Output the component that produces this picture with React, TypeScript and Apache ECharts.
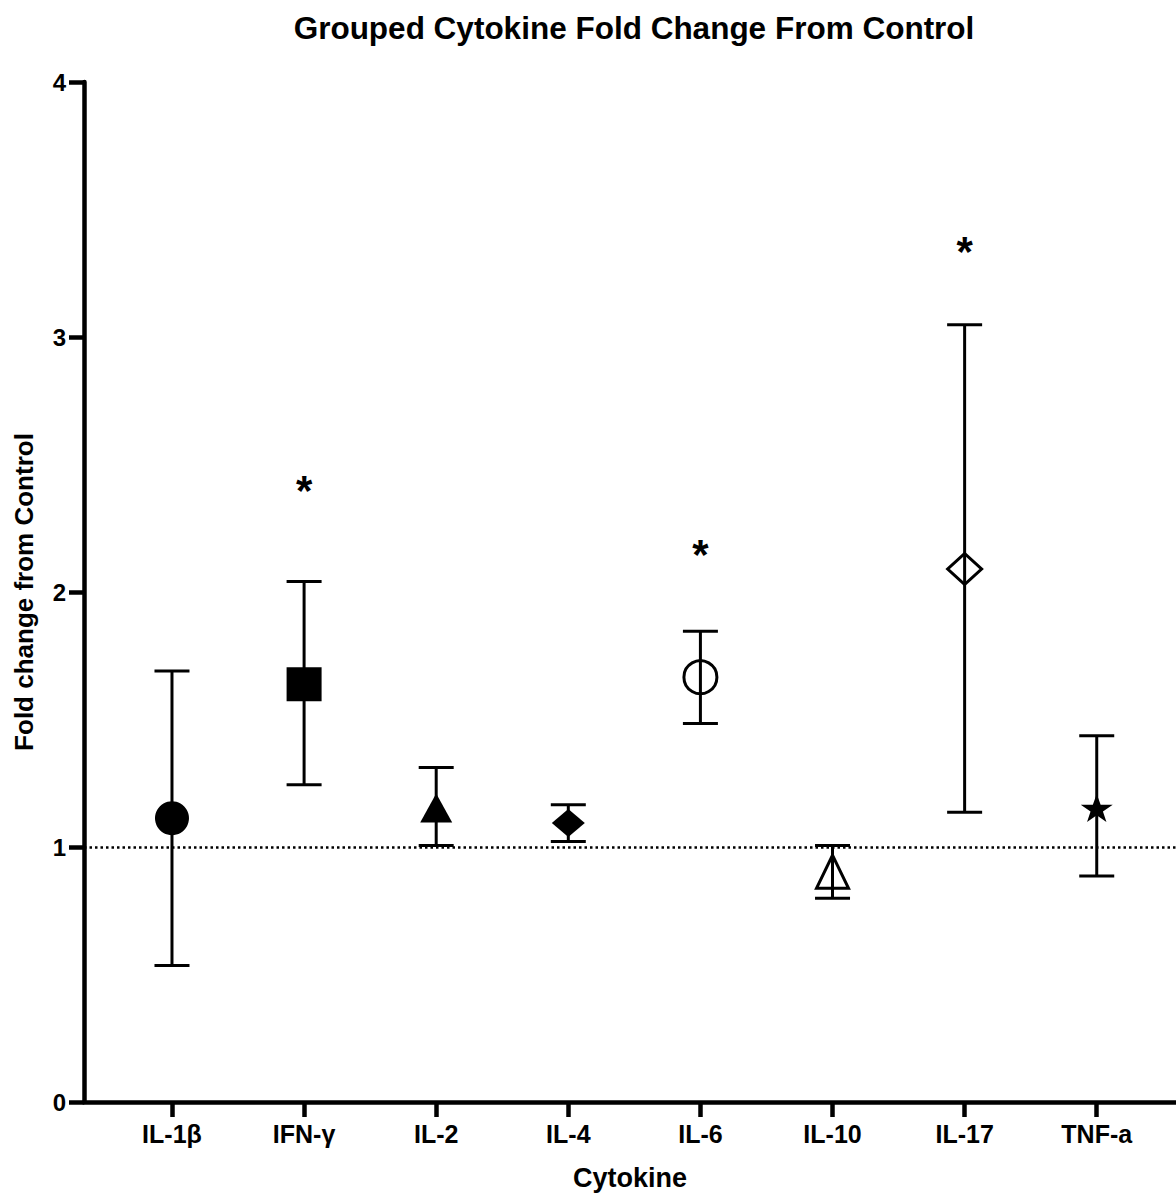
import React, { useEffect, useRef } from "react";
import * as echarts from "echarts";

const categories = ["IL-1β", "IFN-γ", "IL-2", "IL-4", "IL-6", "IL-10", "IL-17", "TNF-a"];
const means = [1.113, 1.638, 1.153, 1.094, 1.666, 0.903, 2.09, 1.153];
const lows = [0.535, 1.244, 1.006, 1.022, 1.484, 0.799, 1.136, 0.886];
const highs = [1.69, 2.041, 1.312, 1.166, 1.846, 1.006, 3.048, 1.436];
const sigIndex = [1, 4, 6];
const sigY = [2.423, 2.17, 3.36];
const yTicks = [0, 1, 2, 3, 4];
const controlLevel = 1;

const STAR =
  "path://M50,0 L61.8,35.1 L98.5,35.1 L68.8,56.9 L79.4,90.5 L50,69.1 L20.6,90.5 L31.2,56.9 L1.5,35.1 L38.2,35.1 Z";

const markerStyles: any[] = [
  { symbol: "circle", symbolSize: 34, filled: true },
  { symbol: "rect", symbolSize: [35, 34], filled: true },
  { symbol: "triangle", symbolSize: [32, 29], filled: true },
  { symbol: "diamond", symbolSize: [33, 28], filled: true },
  { symbol: "circle", symbolSize: 33, filled: false },
  { symbol: "triangle", symbolSize: [32, 33], filled: false },
  { symbol: "diamond", symbolSize: [34, 31], filled: false },
  { symbol: STAR, symbolSize: [32, 28], filled: true },
];

const FONT = "'Liberation Sans', Arial, sans-serif";

export default function App() {
  const ref = useRef<HTMLDivElement>(null);
  useEffect(() => {
    if (!ref.current) return;
    const chart = echarts.init(ref.current, null, { renderer: "svg" });
    const idx = categories.map((_, i) => i);
    const option: any = {
      animation: false,
      backgroundColor: "#fff",
      title: {
        text: "Grouped Cytokine Fold Change From Control",
        left: 629,
        top: 7,
        textAlign: "center",
        textStyle: { fontFamily: FONT, fontWeight: "bold", fontSize: 31.5, color: "#000" },
      },
      grid: { left: 84, right: 0, top: 82, bottom: 80, containLabel: false },
      xAxis: {
        type: "value",
        min: -0.666,
        max: 7.6,
        name: "Cytokine",
        nameLocation: "middle",
        nameGap: 62,
        nameTextStyle: { fontFamily: FONT, fontWeight: "bold", fontSize: 27, color: "#000" },
        splitLine: { show: false },
        axisLine: { show: true, onZero: false, lineStyle: { color: "#000", width: 4.5 } },
        axisTick: {
          show: true,
          customValues: idx,
          length: 15,
          lineStyle: { color: "#000", width: 4.5 },
        },
        axisLabel: {
          customValues: idx,
          margin: 19,
          fontFamily: FONT,
          fontWeight: "bold",
          fontSize: 25,
          color: "#000",
          formatter: (v: number) => categories[Math.round(v)] ?? "",
        },
      },
      yAxis: {
        type: "value",
        min: 0,
        max: 4,
        interval: 1,
        name: "Fold change from Control",
        nameLocation: "middle",
        nameGap: 47,
        nameRotate: 90,
        nameTextStyle: { fontFamily: FONT, fontWeight: "bold", fontSize: 26, color: "#000" },
        splitLine: { show: false },
        axisLine: { show: true, onZero: false, lineStyle: { color: "#000", width: 4.5 } },
        axisTick: { show: true, length: 15, lineStyle: { color: "#000", width: 4.5 } },
        axisLabel: {
          margin: 18,
          fontFamily: FONT,
          fontWeight: "bold",
          fontSize: 24,
          color: "#000",
          customValues: yTicks,
        },
      },
      series: [
        {
          type: "scatter",
          z: 2,
          data: means.map((m, i) => ({
            value: [i, m],
            symbol: markerStyles[i].symbol,
            symbolSize: markerStyles[i].symbolSize,
            itemStyle: markerStyles[i].filled
              ? { color: "#000", borderWidth: 0, opacity: 1 }
              : { color: "rgba(0,0,0,0)", borderColor: "#000", borderWidth: 3, opacity: 1 },
          })),
          markLine: {
            silent: true,
            symbol: "none",
            label: { show: false },
            lineStyle: { color: "#000", width: 2.6, type: [2.5, 3], opacity: 1 },
            data: [{ yAxis: controlLevel }],
          },
        },
        {
          type: "custom",
          z: 3,
          encode: { x: 0, y: [1, 2] },
          data: categories.map((_, i) => [i, lows[i], highs[i]]),
          renderItem: (params: any, api: any) => {
            const x = api.value(0);
            const lo = api.coord([x, api.value(1)]);
            const hi = api.coord([x, api.value(2)]);
            const hw = 17.5;
            const st = { stroke: "#000", lineWidth: 3, fill: "none" };
            return {
              type: "group",
              children: [
                { type: "line", shape: { x1: lo[0], y1: lo[1], x2: hi[0], y2: hi[1] }, style: st },
                { type: "line", shape: { x1: lo[0] - hw, y1: lo[1], x2: lo[0] + hw, y2: lo[1] }, style: st },
                { type: "line", shape: { x1: hi[0] - hw, y1: hi[1], x2: hi[0] + hw, y2: hi[1] }, style: st },
              ],
            };
          },
        },
        {
          type: "scatter",
          z: 4,
          symbolSize: 1,
          itemStyle: { color: "rgba(0,0,0,0)", opacity: 1 },
          data: sigIndex.map((ci, k) => [ci, sigY[k]]),
          label: {
            show: true,
            position: "inside",
            formatter: "*",
            fontFamily: FONT,
            fontWeight: "bold",
            fontSize: 42,
            color: "#000",
            opacity: 1,
            offset: [0, 6],
          },
        },
      ],
    };
    chart.setOption(option);
    return () => chart.dispose();
  }, []);
  return (
    <div
      ref={ref}
      style={{ position: "fixed", left: 0, top: 0, width: 1176, height: 1196 }}
    />
  );
}
